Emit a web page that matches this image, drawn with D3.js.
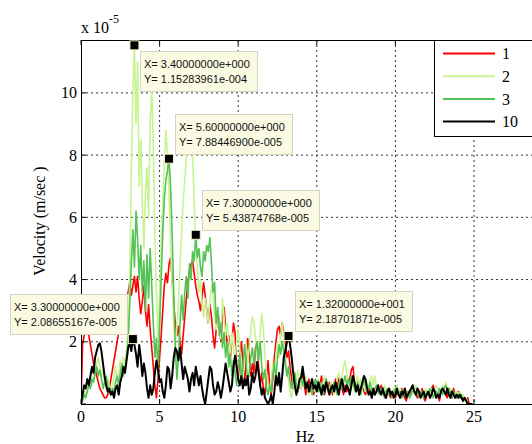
<!DOCTYPE html>
<html>
<head>
<meta charset="utf-8">
<script src="https://cdn.jsdelivr.net/npm/d3@7"></script>
<style>
body { margin: 0; background: #fff; overflow: hidden; }
</style>
</head>
<body>
<script>
// frequency step (Hz) and spectra, values in units of 1e-5 m/sec
var df = 0.1;

var s1 = [
  0.0, 1.9, 2.2, 2.3, 2.4, 2.2, 1.9, 1.6, 1.3, 1.1,
  0.9, 0.7, 0.5, 0.4, 0.3, 0.2, 0.2, 0.3, 0.5, 0.8,
  1.1, 1.4, 1.7, 2.0, 2.3, 2.5, 2.8, 3.0, 3.2, 3.4,
  3.6, 3.9, 3.5, 3.8, 4.1, 3.6, 4.1, 3.4, 2.9, 3.3,
  3.8, 3.0, 2.5, 3.2, 2.4, 1.8, 1.2, 0.6, 0.2, 0.8,
  1.5, 2.2, 3.0, 3.8, 4.2, 3.9, 4.5, 4.7, 4.0, 3.2,
  2.6, 2.2, 2.5, 2.0, 1.6, 2.2, 2.8, 3.4, 3.9, 4.3,
  4.5, 4.6, 4.2, 3.8, 3.5, 3.3, 3.0, 3.4, 3.9, 3.5,
  3.0, 2.6, 3.2, 2.8, 2.2, 1.8, 2.4, 3.0, 2.6, 2.0,
  2.8, 3.1, 2.5, 1.8, 2.2, 1.5, 2.0, 2.6, 2.3, 1.2,
  0.8, 1.5, 2.0, 1.3, 0.6, 1.4, 2.1, 1.6, 0.9, 1.3,
  1.0, 1.8, 2.0, 1.2, 0.6, 1.0, 0.5, 0.3, 0.8, 1.4,
  0.6, 0.3, 0.8, 1.5, 2.0, 2.4, 2.5, 2.2, 2.6, 2.3,
  1.9, 1.5, 1.7, 1.2, 0.8, 0.5, 0.9, 0.6, 0.4, 0.7,
  0.5, 0.9, 0.6, 0.3, 0.5, 0.8, 0.4, 0.6, 0.3, 0.5,
  0.7, 0.4, 0.6, 0.9, 0.5, 0.3, 0.8, 0.4, 0.7, 0.5,
  0.3, 0.6, 0.8, 0.5, 0.9, 0.7, 0.5, 0.3, 0.6, 0.4,
  0.5, 0.8, 1.1, 1.2, 0.7, 0.4, 0.6, 0.3, 0.5, 0.7,
  0.4, 0.3, 0.5, 0.6, 0.4, 0.2, 0.5, 0.3, 0.4, 0.5,
  0.4, 0.6, 0.4, 0.3, 0.2, 0.4, 0.3, 0.2, 0.4, 0.3,
  0.2, 0.4, 0.3, 0.2, 0.5, 0.3, 0.2, 0.1, 0.4, 0.3,
  0.5, 0.6, 0.4, 0.3, 0.2, 0.4, 0.3, 0.5, 0.2, 0.1,
  0.3, 0.4, 0.2, 0.5, 0.6, 0.4, 0.2, 0.3, 0.1, 0.4,
  0.5, 0.4, 0.3, 0.2, 0.5, 0.4, 0.2, 0.5, 0.3, 0.2,
  0.4, 0.2, 0.3, 0.1, 0.2, 0.1, 0.2, 0.0, 0.0, 0.0
];

var s2 = [
  0.0, 0.2, 0.4, 0.3, 0.6, 0.5, 0.8, 0.6, 0.9, 1.1,
  1.3, 1.5, 1.2, 0.9, 1.1, 0.7, 0.5, 0.8, 0.6, 0.4,
  0.6, 0.9, 1.2, 0.8, 1.0, 1.4, 1.1, 1.5, 1.3, 1.8,
  2.5, 4.0, 7.5, 10.0, 11.5283961, 9.0, 11.0, 7.0, 8.5, 6.5,
  5.0, 6.8, 7.6, 6.0, 9.0, 10.2, 8.3, 5.5, 3.5, 2.0,
  3.5, 5.0, 6.5, 7.8, 8.8, 8.0, 6.8, 5.0, 3.8, 2.5,
  1.8, 2.5, 3.2, 4.5, 5.5, 6.5, 7.2, 8.0, 8.6, 8.4,
  8.6, 8.0, 6.5, 5.2, 4.3, 3.6, 4.0, 3.2, 2.8, 3.4,
  3.0, 2.6, 3.3, 3.8, 3.5, 2.8, 2.4, 3.0, 2.5, 2.1,
  3.4, 2.8, 2.2, 2.6, 2.0, 1.6, 2.3, 1.8, 1.4, 2.0,
  2.4, 1.8, 1.2, 0.8, 1.5, 2.0, 1.3, 1.8, 2.4, 2.8,
  2.6, 2.2, 1.5, 1.8, 2.3, 2.9, 2.4, 1.6, 1.0, 0.6,
  0.4, 0.8, 1.3, 1.0, 1.6, 2.0, 1.5, 2.2, 2.6, 2.0,
  1.5, 1.0, 0.8, 0.4, 0.2, 0.6, 0.9, 0.7, 1.1, 0.8,
  0.5, 0.8, 0.6, 0.9, 0.5, 0.3, 0.6, 0.8, 0.5, 0.4,
  0.6, 0.8, 0.5, 0.3, 0.7, 0.9, 0.6, 0.4, 0.5, 0.7,
  0.5, 0.3, 0.6, 0.8, 1.0, 0.7, 0.9, 1.2, 1.4, 1.0,
  0.7, 0.5, 0.8, 0.6, 0.4, 0.7, 0.9, 0.6, 0.8, 0.5,
  0.6, 0.4, 0.7, 0.5, 0.8, 0.9, 0.6, 0.9, 0.5, 0.4,
  0.5, 0.3, 0.4, 0.6, 0.4, 0.3, 0.5, 0.4, 0.3, 0.5,
  0.4, 0.6, 0.3, 0.5, 0.4, 0.3, 0.5, 0.4, 0.2, 0.4,
  0.5, 0.3, 0.4, 0.6, 0.4, 0.3, 0.2, 0.4, 0.3, 0.5,
  0.3, 0.4, 0.2, 0.5, 0.3, 0.4, 0.6, 0.5, 0.3, 0.4,
  0.6, 0.5, 0.7, 0.4, 0.3, 0.5, 0.4, 0.2, 0.3, 0.4,
  0.3, 0.4, 0.2, 0.3, 0.1, 0.2, 0.0, 0.0, 0.0, 0.0
];

var s3 = [
  0.0, 0.1, 0.3, 0.2, 0.4, 0.6, 0.5, 0.8, 0.7, 1.0,
  1.2, 0.9, 1.1, 0.8, 0.5, 0.7, 0.9, 0.6, 0.4, 0.3,
  0.5, 0.4, 0.7, 0.9, 0.6, 1.0, 1.3, 0.9, 1.2, 1.5,
  2.0, 3.2, 4.5, 5.6, 4.4, 6.2, 5.3, 4.0, 5.1, 3.6,
  4.6, 3.0, 4.8, 3.4, 5.0, 3.8, 2.6, 1.5, 2.1, 1.0,
  2.5, 4.0, 5.5, 6.6, 7.2, 7.5, 7.884469, 7.0, 5.4, 3.6,
  1.8, 0.8, 1.5, 2.6, 3.5, 2.7, 3.6, 4.1, 3.4, 4.5,
  4.0, 4.9, 4.6, 5.43874768, 4.7, 5.0, 4.4, 4.1, 4.9, 4.6,
  5.1, 4.9, 5.35, 4.5, 3.6, 3.9, 2.6, 3.1, 2.2, 2.6,
  1.8, 2.3, 1.5, 2.0, 1.2, 1.6, 0.9, 1.4, 1.0, 0.6,
  1.1, 1.6, 0.8, 1.2, 1.9, 1.4, 0.7, 1.0, 1.5, 1.8,
  1.3, 1.7, 2.0, 1.4, 2.0, 1.2, 0.8, 1.1, 0.5, 0.3,
  0.6, 0.4, 0.9, 1.3, 0.8, 1.5, 1.9, 1.6, 2.0, 1.7,
  1.3, 0.9, 1.2, 0.7, 0.5, 0.8, 1.0, 0.6, 0.4, 0.7,
  0.9, 0.6, 0.8, 0.5, 0.7, 0.4, 0.6, 0.3, 0.5, 0.8,
  0.6, 0.4, 0.7, 0.5, 0.3, 0.6, 0.8, 0.5, 0.4, 0.6,
  0.4, 0.7, 0.5, 0.3, 0.6, 0.8, 0.5, 0.7, 0.9, 0.6,
  0.8, 0.6, 0.9, 0.7, 0.5, 0.4, 0.7, 0.5, 0.3, 0.6,
  0.8, 0.6, 0.4, 0.5, 0.7, 0.4, 0.3, 0.5, 0.6, 0.4,
  0.3, 0.5, 0.4, 0.2, 0.4, 0.5, 0.3, 0.4, 0.2, 0.3,
  0.5, 0.4, 0.3, 0.4, 0.2, 0.3, 0.5, 0.3, 0.4, 0.2,
  0.3, 0.5, 0.4, 0.3, 0.5, 0.2, 0.3, 0.4, 0.2, 0.3,
  0.4, 0.3, 0.5, 0.4, 0.2, 0.3, 0.4, 0.3, 0.5, 0.4,
  0.3, 0.5, 0.6, 0.4, 0.5, 0.3, 0.2, 0.4, 0.3, 0.2,
  0.3, 0.2, 0.3, 0.1, 0.2, 0.1, 0.0, 0.0, 0.0, 0.0
];

var s4 = [
  0.0, 0.3, 0.6, 0.5, 0.8, 0.6, 0.9, 1.2, 1.0, 1.5,
  1.7, 1.9, 1.95, 1.7, 1.3, 0.9, 0.6, 0.4, 0.5, 0.3,
  0.4, 0.2, 0.5, 0.6, 0.3, 0.7, 0.9, 1.2, 1.0, 1.4,
  1.8, 2.0, 1.7, 2.08655167, 1.9, 1.6, 1.2, 1.9, 1.5, 0.9,
  1.3, 1.0, 0.5, 0.2, 0.6, 0.3, 0.5, 1.0, 1.4, 1.1,
  0.7, 0.8, 0.4, 0.2, 0.6, 1.2, 1.1, 0.5, 0.9, 1.5,
  1.8, 1.7, 1.4, 1.8, 1.3, 0.8, 1.2, 1.0, 0.8, 0.4,
  0.8, 1.0, 0.6, 1.2, 0.9, 0.6, 0.9, 0.5, 0.2, 0.0,
  0.4, 0.8, 1.2, 1.1, 0.6, 0.3, 0.4, 0.7, 0.5, 0.2,
  0.5, 0.9, 1.3, 1.0, 0.7, 0.4, 0.6, 1.2, 1.55, 1.2,
  0.8, 0.6, 0.9, 0.5, 0.8, 0.6, 0.9, 0.3, 0.5, 1.0,
  0.7, 0.9, 1.35, 1.0, 0.6, 0.3, 0.5, 0.2, 0.1, 0.0,
  0.1, 0.3, 0.0, 0.4, 0.9, 0.6, 1.0, 0.4, 0.9, 1.5,
  1.7, 2.0, 2.18701871, 1.9, 1.5, 1.0, 0.6, 0.3, 0.5, 0.8,
  0.85, 1.2, 0.8, 0.5, 0.7, 0.4, 0.6, 0.8, 0.5, 0.6,
  0.4, 0.7, 0.5, 0.3, 0.6, 0.4, 0.7, 0.5, 0.3, 0.5,
  0.6, 0.4, 0.7, 0.5, 0.3, 0.6, 0.8, 0.5, 0.4, 0.6,
  0.5, 0.3, 0.6, 0.9, 0.7, 0.4, 0.6, 0.3, 0.5, 0.7,
  0.9, 0.8, 0.5, 0.3, 0.4, 0.2, 0.5, 0.3, 0.4, 0.6,
  0.4, 0.3, 0.5, 0.3, 0.2, 0.4, 0.5, 0.3, 0.4, 0.2,
  0.3, 0.5, 0.3, 0.2, 0.4, 0.3, 0.5, 0.2, 0.3, 0.4,
  0.5, 0.6, 0.4, 0.3, 0.5, 0.4, 0.2, 0.3, 0.4, 0.2,
  0.3, 0.4, 0.2, 0.3, 0.5, 0.4, 0.2, 0.3, 0.2, 0.4,
  0.5, 0.4, 0.3, 0.5, 0.3, 0.2, 0.4, 0.3, 0.2, 0.3,
  0.2, 0.3, 0.2, 0.1, 0.2, 0.1, 0.0, 0.0, 0.0, 0.0
];

var seriesNames = ["1", "2", "3", "10"];
var seriesColors = ["#ff0000", "#c6f490", "#55c255", "#000000"];
var seriesWidths = [1.6, 1.6, 1.6, 2];

var xTicks = [0, 5, 10, 15, 20, 25];
var yTicks = [0, 2, 4, 6, 8, 10];

// data tips: frequency, value (1e-5), where the box sits
var tipX = [3.4, 5.6, 7.3, 3.3, 13.2];
var tipY = [11.5283961, 7.884469, 5.43874768, 2.08655167, 2.18701871];
var tipPos = ["se", "ne", "ne", "nw", "ne"];

var W = 532, H = 444;
var padL = 81, padT = 40, padB = 404;

// axes run past the right edge of the picture (xlim 0..30)
var x = d3.scaleLinear().domain([0, 30]).range([padL, padL + 30 * 15.72]);
var y = d3.scaleLinear().domain([0, 11.7]).range([padB, padT]);

var freq = s1.map(function(d, i) { return +(i * df).toFixed(1); });
var series = [s1, s2, s3, s4];

var svg = d3.select("body").append("svg")
    .attr("width", W).attr("height", H)
    .style("font-family", "'Liberation Serif', 'Times New Roman', serif");

svg.append("clipPath").attr("id", "plot")
  .append("rect")
    .attr("x", padL).attr("y", padT)
    .attr("width", x(30) - padL).attr("height", padB - padT);

// grid
svg.append("g").selectAll("line").data(xTicks.slice(1)).enter().append("line")
    .attr("x1", function(d) { return x(d); }).attr("x2", function(d) { return x(d); })
    .attr("y1", padT).attr("y2", padB)
    .attr("stroke", "#333").attr("stroke-dasharray", "2,3");
svg.append("g").selectAll("line").data(yTicks.slice(1)).enter().append("line")
    .attr("x1", padL).attr("x2", x(30))
    .attr("y1", function(d) { return y(d); }).attr("y2", function(d) { return y(d); })
    .attr("stroke", "#333").attr("stroke-dasharray", "2,3");

var line = d3.line()
    .x(function(d, i) { return x(freq[i]); })
    .y(function(d) { return y(d); });

svg.append("g").attr("clip-path", "url(#plot)")
  .selectAll("path").data(series).enter().append("path")
    .attr("d", line)
    .attr("fill", "none")
    .attr("stroke", function(d, i) { return seriesColors[i]; })
    .attr("stroke-width", function(d, i) { return seriesWidths[i]; })
    .attr("stroke-linejoin", "round");

// axes box and ticks
svg.append("rect")
    .attr("x", padL + 0.5).attr("y", padT + 0.5)
    .attr("width", x(30) - padL).attr("height", padB - padT)
    .attr("fill", "none").attr("stroke", "#000");

var xt = svg.append("g").selectAll("g").data(xTicks).enter().append("g");
xt.append("line")
    .attr("x1", function(d) { return x(d); }).attr("x2", function(d) { return x(d); })
    .attr("y1", padB).attr("y2", padB - 5).attr("stroke", "#000");
xt.append("line")
    .attr("x1", function(d) { return x(d); }).attr("x2", function(d) { return x(d); })
    .attr("y1", padT).attr("y2", padT + 5).attr("stroke", "#000");
xt.append("text")
    .attr("x", function(d) { return x(d); }).attr("y", 422)
    .attr("text-anchor", "middle").attr("font-size", 16)
    .text(function(d) { return d; });

var yt = svg.append("g").selectAll("g").data(yTicks).enter().append("g");
yt.append("line")
    .attr("x1", padL).attr("x2", padL + 5)
    .attr("y1", function(d) { return y(d); }).attr("y2", function(d) { return y(d); })
    .attr("stroke", "#000");
yt.append("text")
    .attr("x", 77).attr("y", function(d) { return y(d); })
    .attr("dy", "0.35em").attr("text-anchor", "end").attr("font-size", 16)
    .text(function(d) { return d === 0 ? "" : d; });

svg.append("text")
    .attr("x", 305).attr("y", 442)
    .attr("text-anchor", "middle").attr("font-size", 16)
    .text("Hz");

svg.append("text")
    .attr("transform", "translate(45,221) rotate(-90)")
    .attr("text-anchor", "middle").attr("font-size", 16)
    .text("Velocity (m/sec )");

var mult = svg.append("text").attr("x", 81).attr("y", 33).attr("font-size", 16);
mult.append("tspan").text("x 10");
mult.append("tspan").attr("dy", -10).attr("font-size", 12).text("-5");

// data tips
function fmt(v) {
  var s = v.toExponential(8).split("e");
  var e = +s[1];
  var p = String(Math.abs(e));
  while (p.length < 3) p = "0" + p;
  return s[0] + "e" + (e < 0 ? "-" : "+") + p;
}

var bw = 117, bh = 40;
tipX.forEach(function(fx, i) {
  var mx = x(fx), my = y(tipY[i]);
  var bx, by;
  if (tipPos[i] === "se") { bx = mx + 6; by = my + 6; }
  else if (tipPos[i] === "ne") { bx = mx + 6; by = my - bh - 5; }
  else { bx = mx - bw - 6; by = my - bh - 5; }
  bx = Math.round(bx); by = Math.round(by);
  var g = svg.append("g");
  g.append("rect")
      .attr("x", bx + 0.5).attr("y", by + 0.5)
      .attr("width", bw).attr("height", bh)
      .attr("fill", "#fbfbe4").attr("stroke", "#d4d4c0");
  g.append("text")
      .attr("x", bx + 4).attr("y", by + 16.5)
      .attr("font-family", "'Liberation Sans', Arial, sans-serif").attr("font-size", 11)
      .attr("fill", "#111")
      .text("X= " + fmt(fx));
  g.append("text")
      .attr("x", bx + 4).attr("y", by + 31.5)
      .attr("font-family", "'Liberation Sans', Arial, sans-serif").attr("font-size", 11)
      .attr("fill", "#111")
      .text("Y= " + fmt(tipY[i] * 1e-5));
  g.append("rect")
      .attr("x", mx - 4.5).attr("y", my - 4.5)
      .attr("width", 9).attr("height", 9)
      .attr("fill", "#000").attr("stroke", "#f4f4c8").attr("stroke-width", 1);
});

// legend
var lg = svg.append("g");
lg.append("rect")
    .attr("x", 434.5).attr("y", 40.5).attr("width", 110).attr("height", 96)
    .attr("fill", "#fff").attr("stroke", "#000");
seriesNames.forEach(function(name, i) {
  var ly = 53.5 + i * 22.7;
  lg.append("line")
      .attr("x1", 443).attr("x2", 495).attr("y1", ly).attr("y2", ly)
      .attr("stroke", seriesColors[i]).attr("stroke-width", 2);
  lg.append("text")
      .attr("x", 502).attr("y", ly).attr("dy", "0.35em")
      .attr("font-size", 16)
      .text(name);
});
</script>
</body>
</html>
